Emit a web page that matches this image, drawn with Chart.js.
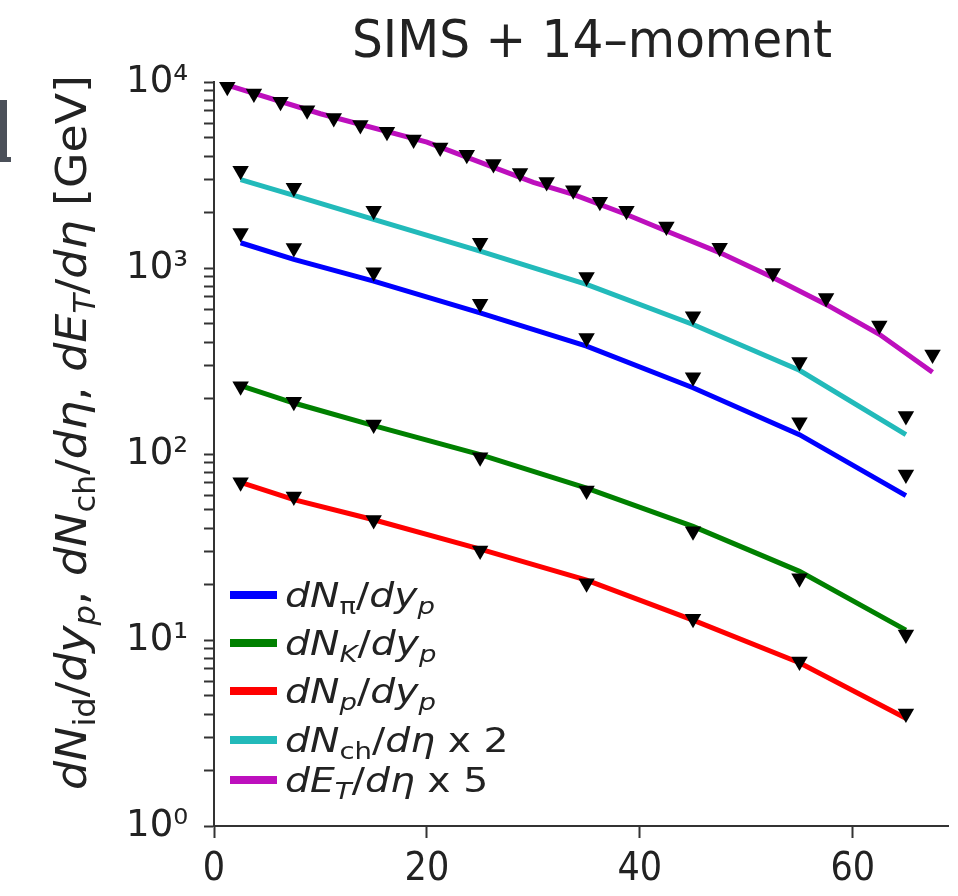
<!DOCTYPE html>
<html>
<head>
<meta charset="utf-8">
<script src="https://cdn.jsdelivr.net/npm/chart.js@4.4.0/dist/chart.umd.min.js"></script>
<style>
  html, body { margin: 0; padding: 0; background: #fff; }
  #wrap { width: 958px; height: 896px; }
</style>
</head>
<body>
<div id="wrap"><canvas id="simsChart" width="958" height="896"></canvas></div>
<script>
// centrality (%) of the identified-particle bins
const centId = [2.5, 7.5, 15, 25, 35, 45, 55, 65];
// centrality (%) of the dE_T/deta data bins
const centEt = [1.25, 3.75, 6.25, 8.75, 11.25, 13.75, 16.25, 18.75, 21.25, 23.75, 26.25,
  28.75, 31.25, 33.75, 36.25, 38.75, 42.5, 47.5, 52.5, 57.5, 62.5, 67.5];
// centrality (%) where the dE_T/deta model curve was read
const centEtModel = [1.25, 10, 20, 30, 33.75, 38.75, 42.5, 47.5, 52.5, 57.5, 62.5, 67.5];

// data (black triangles)
const pionData = [1540, 1280, 950, 643, 421, 259, 148, 77.5];
const kaonData = [231, 191, 144, 96, 63.6, 38.4, 21.5, 10.7];
const protonData = [70.4, 59, 44.2, 30.3, 20.2, 13, 7.67, 4.03];
const chData = [3330, 2700, 2030, 1365, 894, 550, 312, 160];
const etData = [9420, 8660, 7820, 7050, 6410, 5880, 5400, 4900, 4440, 4060, 3620,
  3240, 2900, 2620, 2270, 2030, 1670, 1285, 940, 690, 490, 343];

// SIMS + 14-moment curves
const pionModel = [1367, 1112, 851, 574, 380, 227, 127, 59.7];
const kaonModel = [233, 188, 142, 99.3, 65.6, 40.8, 23.4, 11.3];
const protonModel = [70.3, 56.9, 44.3, 30.8, 21.0, 12.8, 7.55, 3.8];
const chModel = [2985, 2460, 1828, 1233, 816, 497, 282, 127];
const etModel = [9610, 6750, 4750, 2890, 2490, 1940, 1580, 1210, 890, 637, 440, 275];

const xTicks = [0, 20, 40, 60];
const yDecades = [1, 10, 100, 1000, 10000];
const supDigits = ["⁰", "¹", "²", "³", "⁴"];

const colors = {
  pion: "#0000ff",
  kaon: "#008000",
  proton: "#ff0000",
  ch: "#22baba",
  et: "#bd0fbd",
};

const pts = (xs, ys) => xs.map((x, i) => ({ x: x, y: ys[i] }));

// minor ticks 2..9 inside each decade
const yTickValues = [];
yDecades.forEach((d, k) => {
  yTickValues.push(d);
  if (k < yDecades.length - 1) {
    for (let m = 2; m <= 9; m++) yTickValues.push(m * d);
  }
});

function modelSet(label, xs, ys, color) {
  return {
    label: label,
    data: pts(xs, ys),
    borderColor: color,
    backgroundColor: color,
    borderWidth: 5,
    pointRadius: 0,
    tension: 0,
    order: 2,
    clip: false,
  };
}

function dataSet(label, xs, ys) {
  return {
    label: label,
    data: pts(xs, ys),
    showLine: false,
    pointStyle: "triangle",
    pointRotation: 180,
    pointRadius: 9.5,
    pointHoverRadius: 9.5,
    pointBackgroundColor: "#000",
    pointBorderColor: "#000",
    pointBorderWidth: 0,
    order: 1,
    clip: false,
  };
}

// math-ish text: [text, style] with i = italic, r = roman, si / sr = subscript
const ylabelRuns = [["d", "i"], ["N", "i"], ["id", "sr"], ["/", "r"], ["d", "i"], ["y", "i"], ["p", "si"],
  [", ", "r"], ["d", "i"], ["N", "i"], ["ch", "sr"], ["/", "r"], ["d", "i"], ["η", "i"],
  [", ", "r"], ["d", "i"], ["E", "i"], ["T", "si"], ["/", "r"], ["d", "i"], ["η", "i"], [" [GeV]", "r"]];

const legendRows = [
  { color: colors.pion, runs: [["d", "i"], ["N", "i"], ["π", "sr"], ["/", "r"], ["d", "i"], ["y", "i"], ["p", "si"]] },
  { color: colors.kaon, runs: [["d", "i"], ["N", "i"], ["K", "si"], ["/", "r"], ["d", "i"], ["y", "i"], ["p", "si"]] },
  { color: colors.proton, runs: [["d", "i"], ["N", "i"], ["p", "si"], ["/", "r"], ["d", "i"], ["y", "i"], ["p", "si"]] },
  { color: colors.ch, runs: [["d", "i"], ["N", "i"], ["ch", "sr"], ["/", "r"], ["d", "i"], ["η", "i"], [" x 2", "r"]] },
  { color: colors.et, runs: [["d", "i"], ["E", "i"], ["T", "si"], ["/", "r"], ["d", "i"], ["η", "i"], [" x 5", "r"]] },
];

function fontFor(style, size) {
  const sub = style[0] === "s";
  const it = style[style.length - 1] === "i";
  const s = sub ? size * 0.7 : size;
  return (it ? "italic " : "") + s.toFixed(1) + "px 'DejaVu Sans'";
}

function runsWidth(ctx, runs, size) {
  let w = 0;
  runs.forEach(([t, st]) => {
    ctx.font = fontFor(st, size);
    w += ctx.measureText(t).width;
  });
  return w;
}

function drawRuns(ctx, runs, size) {
  let x = 0;
  runs.forEach(([t, st]) => {
    ctx.font = fontFor(st, size);
    const dy = st[0] === "s" ? size * 0.22 : 0;
    ctx.fillText(t, x, dy);
    x += ctx.measureText(t).width;
  });
}

const textPlugin = {
  id: "textPlugin",
  afterDraw(chart) {
    const ctx = chart.ctx;
    ctx.save();
    ctx.fillStyle = "#222";
    ctx.textBaseline = "alphabetic";
    ctx.textAlign = "left";

    // title
    ctx.font = "52px 'DejaVu Sans'";
    const title = "SIMS + 14–moment";
    const tw = ctx.measureText(title).width;
    ctx.save();
    ctx.translate(352, 57);
    ctx.scale(480 / tw, 1);
    ctx.fillText(title, 0, 0);
    ctx.restore();

    // y axis label
    const ySize = 42;
    const yw = runsWidth(ctx, ylabelRuns, ySize);
    ctx.save();
    ctx.translate(86, 790);
    ctx.rotate(-Math.PI / 2);
    ctx.scale(715 / yw, 1);
    drawRuns(ctx, ylabelRuns, ySize);
    ctx.restore();

    // legend
    const lSize = 33;
    const lScale = 150 / runsWidth(ctx, legendRows[0].runs, lSize);
    const baselines = [607, 655, 703, 752, 792];
    legendRows.forEach((row, i) => {
      const b = baselines[i];
      ctx.fillStyle = row.color;
      ctx.fillRect(230, b - 16, 47, 8);
      ctx.fillStyle = "#222";
      ctx.save();
      ctx.translate(285, b);
      ctx.scale(lScale, 1);
      drawRuns(ctx, row.runs, lSize);
      ctx.restore();
    });

    // piece of the neighbouring panel, cut at the left edge
    ctx.fillStyle = "#4b5059";
    ctx.fillRect(0, 100, 7, 62);
    ctx.fillRect(0, 157, 11, 5);
    ctx.restore();
  },
};

const simsConfig = {
  type: "line",
  data: {
    datasets: [
      dataSet("pi data", centId, pionData),
      dataSet("K data", centId, kaonData),
      dataSet("p data", centId, protonData),
      dataSet("ch data", centId, chData),
      dataSet("ET data", centEt, etData),
      modelSet("dNpi/dyp", centId, pionModel, colors.pion),
      modelSet("dNK/dyp", centId, kaonModel, colors.kaon),
      modelSet("dNp/dyp", centId, protonModel, colors.proton),
      modelSet("dNch/deta x 2", centId, chModel, colors.ch),
      modelSet("dET/deta x 5", centEtModel, etModel, colors.et),
    ],
  },
  options: {
    responsive: false,
    animation: false,
    devicePixelRatio: 1,
    layout: { padding: { top: 82, right: 0, bottom: 0, left: 0 } },
    plugins: {
      legend: { display: false },
      title: { display: false },
      tooltip: { enabled: false },
    },
    scales: {
      x: {
        type: "linear",
        min: 0,
        max: 69,
        afterBuildTicks: (scale) => {
          scale.ticks = xTicks.map((v) => ({ value: v }));
        },
        afterFit: (scale) => {
          scale.height = 70;
        },
        ticks: {
          autoSkip: false,
          maxRotation: 0,
          padding: 8,
          color: "#222",
          font: { family: "'Liberation Sans Narrow', 'DejaVu Sans Condensed', 'DejaVu Sans'", size: 39 },
        },
        grid: { drawOnChartArea: false, tickLength: 12, tickWidth: 2, tickColor: "#333" },
        border: { display: true, color: "#333", width: 2 },
      },
      y: {
        type: "logarithmic",
        min: 1,
        max: 10000,
        afterBuildTicks: (scale) => {
          scale.ticks = yTickValues.map((v) => ({ value: v }));
        },
        afterFit: (scale) => {
          scale.width = 214;
        },
        ticks: {
          autoSkip: false,
          padding: 16,
          color: "#222",
          font: { family: "'DejaVu Sans'", size: 37 },
          callback: (value) => {
            const k = yDecades.indexOf(value);
            return k >= 0 ? "10" + supDigits[k] : "";
          },
        },
        grid: { drawOnChartArea: false, tickLength: 10, tickWidth: 2, tickColor: "#333" },
        border: { display: true, color: "#333", width: 2 },
      },
    },
  },
  plugins: [textPlugin],
};

const simsChart = new Chart(document.getElementById("simsChart"), simsConfig);
</script>
</body>
</html>
